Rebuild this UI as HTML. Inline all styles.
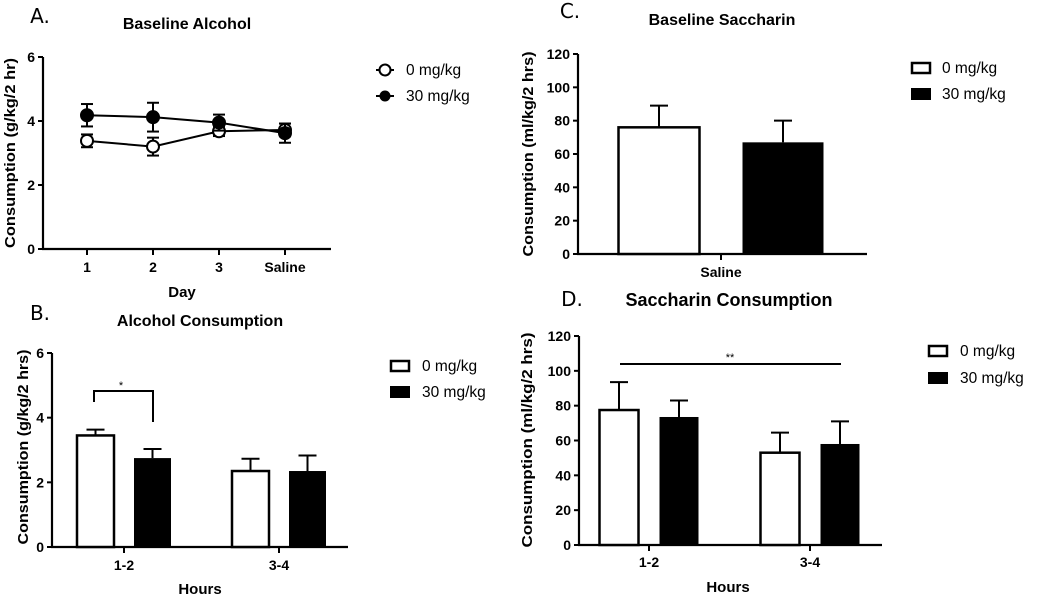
<!DOCTYPE html>
<html><head><meta charset="utf-8"><style>
body{margin:0;background:#fff;width:1050px;height:601px;overflow:hidden}
svg{font-family:"Liberation Sans",Arial,sans-serif}
</style></head><body>
<svg id="s" width="1050" height="601" viewBox="0 0 1050 601"></svg>
<script>
// Panel A data
const aDays=["1","2","3","Saline"];
const aOpen=[3.38,3.2,3.68,3.72];
const aOpenErr=[0.2,0.28,0.15,0.2];
const aFilled=[4.18,4.12,3.95,3.62];
const aFilledErr=[0.35,0.45,0.25,0.3];
const aTicks=[0,2,4,6];
// Panel B data
const bCats=["1-2","3-4"];
const bOpen=[3.45,2.35];
const bOpenErr=[0.18,0.38];
const bFilled=[2.75,2.35];
const bFilledErr=[0.28,0.48];
const bTicks=[0,2,4,6];
// Panel C data
const cCats=["Saline"];
const cOpen=[76];
const cOpenErr=[13];
const cFilled=[67];
const cFilledErr=[13];
const cTicks=[0,20,40,60,80,100,120];
// Panel D data
const dCats=["1-2","3-4"];
const dOpen=[77.5,53];
const dOpenErr=[16,11.5];
const dFilled=[73.5,58];
const dFilledErr=[9.5,13];
const dTicks=[0,20,40,60,80,100,120];

const NS="http://www.w3.org/2000/svg";
const svg=document.getElementById('s');
function mk(tag,attrs,txt,parent){const e=document.createElementNS(NS,tag);for(const k in attrs)e.setAttribute(k,attrs[k]);if(txt!=null)e.textContent=txt;(parent||svg).appendChild(e);return e;}
function line(x1,y1,x2,y2,w,g,name){const l=mk('line',{x1,y1,x2,y2,stroke:'#000','stroke-width':w||2},null,g);

return l;}
function text(x,y,t,o,g,name){const e=mk('text',Object.assign({x,y,'text-anchor':'middle'},o||{}),t,g);

return e;}
function group(name){const g=mk('g',{});

return g;}

function axes(g,x0,xEnd,yTop,yBot,max,ticks,ylabel,ycenter,ylx,lw){
  const Y=v=>yBot-(v/max)*(yBot-yTop);
  line(x0,yTop,x0,yBot+1,2.2,g,'y-axis');
  line(x0-1,yBot,xEnd,yBot,2.2,g,'x-axis');
  ticks.forEach(t=>{line(x0-5,Y(t),x0,Y(t),2,g,'y-tick');
    text(x0-8,Y(t)+5,String(t),{'text-anchor':'end','font-size':'14','font-weight':'bold'},g,'y-tick-label');});
  text(ylx,ycenter,ylabel,{'font-size':'15','font-weight':'bold',textLength:lw,lengthAdjust:'spacingAndGlyphs',transform:`rotate(-90 ${ylx} ${ycenter})`},g,'y-axis-title');
  return Y;
}
function legend(g,x,y1,y2,tx,type){
  if(type==='circle'){
    line(x-9,y1,x+9,y1,2,g,'legend-line');mk('circle',{cx:x,cy:y1,r:5.5,fill:'#fff',stroke:'#000','stroke-width':2},null,g);
    line(x-9,y2,x+9,y2,2,g,'legend-line');mk('circle',{cx:x,cy:y2,r:5.5,fill:'#000'},null,g);
  }else{
    mk('rect',{x:x,y:y1-5,width:18,height:10,fill:'#fff',stroke:'#000','stroke-width':2.5},null,g);
    mk('rect',{x:x-1,y:y2-6,width:20,height:12,fill:'#000'},null,g);
  }
  text(tx,y1+5,'0 mg/kg',{'text-anchor':'start','font-size':'15.5'},g,'legend-entry-0mg');
  text(tx,y2+5,'30 mg/kg',{'text-anchor':'start','font-size':'15.5'},g,'legend-entry-30mg');
}
function bars(g,Y,centers,bw,gap,open,openE,filled,filledE,cats,labelY){
  centers.forEach((c,i)=>{
    const xo=c-gap/2-bw, xf=c+gap/2;
    line(xo+bw/2,Y(open[i]+openE[i]),xo+bw/2,Y(open[i]),2,g,'error-bar');
    line(xo+bw/2-9,Y(open[i]+openE[i]),xo+bw/2+9,Y(open[i]+openE[i]),2,g,'error-cap');
    const r1=mk('rect',{x:xo,y:Y(open[i]),width:bw,height:Y(0)-Y(open[i]),fill:'#fff',stroke:'#000','stroke-width':2.5},null,g);
    
    
    line(xf+bw/2,Y(filled[i]+filledE[i]),xf+bw/2,Y(filled[i]),2,g,'error-bar');
    line(xf+bw/2-9,Y(filled[i]+filledE[i]),xf+bw/2+9,Y(filled[i]+filledE[i]),2,g,'error-cap');
    const r2=mk('rect',{x:xf,y:Y(filled[i]),width:bw,height:Y(0)-Y(filled[i]),fill:'#000'},null,g);
    
    
    line(c,Y(0),c,Y(0)+6,2,g,'x-tick');
    text(c,labelY,cats[i],{'font-size':'14','font-weight':'bold'},g,'x-tick-label');
  });
}
const P={'font-size':'20','font-family':'"DejaVu Sans",sans-serif'};
const T={'font-size':'16','font-weight':'bold'};

// Panel A
(function(){const g=group('panel-a');
 text(40,23,'A.',P,g,'panel-letter');text(187,29,'Baseline Alcohol',T,g,'chart-title');
 const Y=axes(g,43,331,57,249,6,aTicks,'Consumption  (g/kg/2 hr)',153,15,190);
 const xs=[87,153,219,285];
 aDays.forEach((d,i)=>{line(xs[i],249,xs[i],255,2,g,'x-tick');text(xs[i],272,d,{'font-size':'14','font-weight':'bold'},g,'x-tick-label');});
 text(182,297,'Day',{'font-size':'15','font-weight':'bold'},g,'x-axis-title');
 function series(vals,errs,fill,name){
  const pts=vals.map((v,i)=>xs[i]+','+Y(v)).join(' ');
  const pl=mk('polyline',{points:pts,fill:'none',stroke:'#000','stroke-width':2},null,g);
  
  
  vals.forEach((v,i)=>{const t=Y(v+errs[i]),b=Y(v-errs[i]);
   line(xs[i],t,xs[i],b,2,g,'error-bar');line(xs[i]-6,t,xs[i]+6,t,2,g,'error-cap');line(xs[i]-6,b,xs[i]+6,b,2,g,'error-cap');
   const c=mk('circle',{cx:xs[i],cy:Y(v),r:6,fill:fill,stroke:'#000','stroke-width':2},null,g);
   
   });
 }
 series(aOpen,aOpenErr,'#fff','series-0mg');series(aFilled,aFilledErr,'#000','series-30mg');
 legend(g,385,70,96,406,'circle');
})();
// Panel B
(function(){const g=group('panel-b');
 text(40,320,'B.',P,g,'panel-letter');text(200,326,'Alcohol Consumption',T,g,'chart-title');
 const Y=axes(g,52,348,353,547,6,bTicks,'Consumption (g/kg/2 hrs)',447,28,195);
 bars(g,Y,[124,279],37,20,bOpen,bOpenErr,bFilled,bFilledErr,bCats,570);
 text(200,594,'Hours',{'font-size':'15','font-weight':'bold'},g,'x-axis-title');
 const p=mk('polyline',{points:'94,402 94,391 153,391 153,422',fill:'none',stroke:'#000','stroke-width':2},null,g);
 
 
 text(121,389,'*',{'font-size':'11'},g,'significance-star');
 legend(g,391,366,392,422,'rect');
})();
// Panel C
(function(){const g=group('panel-c');
 text(570,18,'C.',P,g,'panel-letter');text(722,25,'Baseline Saccharin',T,g,'chart-title');
 const Y=axes(g,578,867,54,254,120,cTicks,'Consumption (ml/kg/2 hrs)',154,533,205);
 bars(g,Y,[721],81,43,cOpen,cOpenErr,cFilled,cFilledErr,cCats,277);
 legend(g,912,68,94,942,'rect');
})();
// Panel D
(function(){const g=group('panel-d');
 text(572,306,'D.',P,g,'panel-letter');text(729,306,'Saccharin Consumption',{'font-size':'18','font-weight':'bold'},g,'chart-title');
 const Y=axes(g,579,882,336,545,120,dTicks,'Consumption (ml/kg/2 hrs)',440,532,215);
 bars(g,Y,[649,810],39,21,dOpen,dOpenErr,dFilled,dFilledErr,dCats,567);
 text(728,592,'Hours',{'font-size':'15','font-weight':'bold'},g,'x-axis-title');
 line(620,364,841,364,2,g,'significance-line');
 text(730,361,'**',{'font-size':'11'},g,'significance-stars');
 legend(g,929,351,378,960,'rect');
})();
</script>
</body></html>
